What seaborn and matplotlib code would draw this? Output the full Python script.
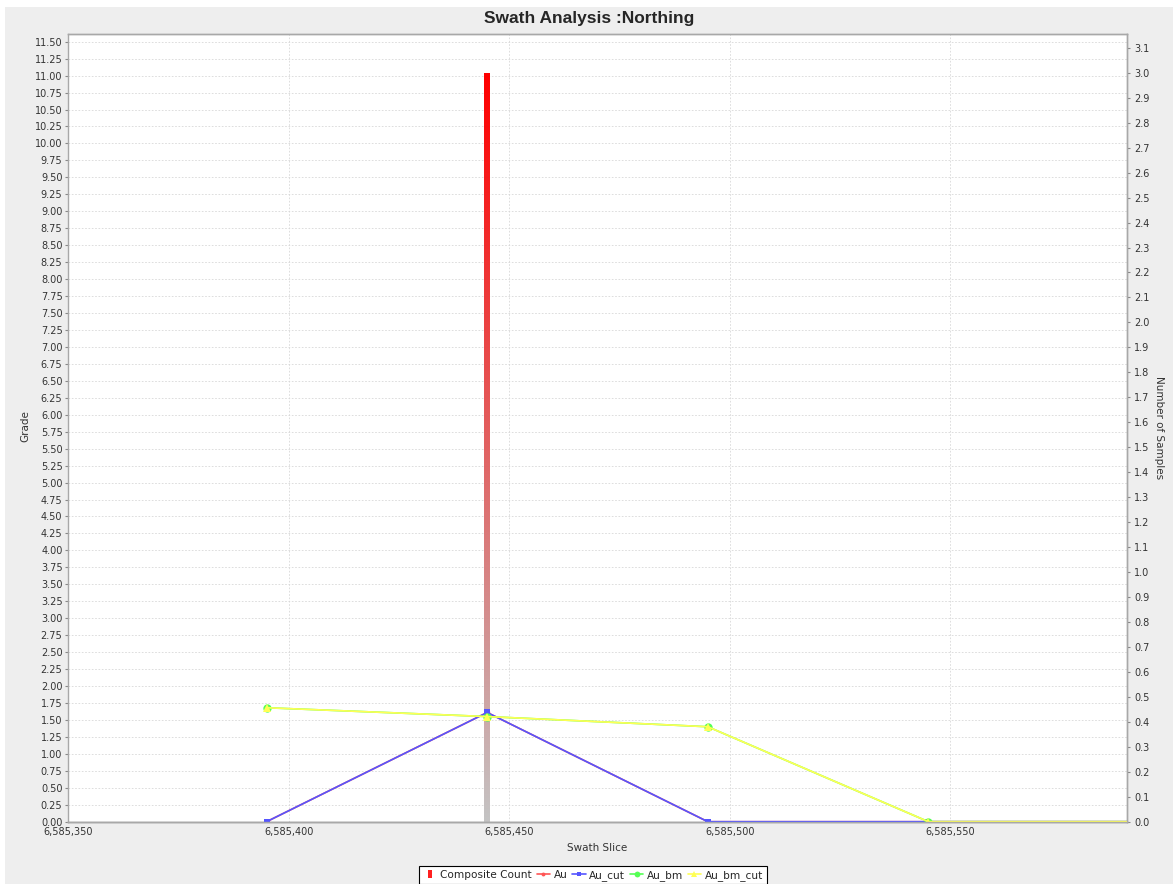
import numpy as np
import matplotlib
matplotlib.use("Agg")
import matplotlib.pyplot as plt
import matplotlib.ticker as mticker
from matplotlib.patches import Rectangle
from matplotlib.lines import Line2D
from matplotlib.colors import LinearSegmentedColormap
import seaborn as sns

# Swath slice centres (northing) and values
slices = [6585395, 6585445, 6585495, 6585545, 6585595]
composite_count = [0, 3, 0, 0, 0]
au = [0.0, 1.61, 0.0, 0.0, 0.0]
au_cut = [0.0, 1.61, 0.0, 0.0, 0.0]
au_bm = [1.68, 1.55, 1.40, 0.0, 0.0]
au_bm_cut = [1.68, 1.55, 1.40, 0.0, 0.0]

grade_ticks = np.arange(0, 11.51, 0.25)
count_ticks = np.arange(0, 3.11, 0.1)
x_ticks = [6585350, 6585400, 6585450, 6585500, 6585550]

sns.set_style("white")
plt.rcParams['font.family'] = ['DejaVu Sans']

W, H = 1173, 884
fig = plt.figure(figsize=(W / 100, H / 100), dpi=100, facecolor='white')
fig.add_artist(Rectangle((5 / W, 0), 1, 1 - 7 / H, transform=fig.transFigure,
                         facecolor='#EEEEEE', edgecolor='none', zorder=-10))

left, right, top, bottom = 68, 1127, 34.3, 821.7
rect = [left / W, 1 - bottom / H, (right - left) / W, (bottom - top) / H]
ax = fig.add_axes(rect)
ax.set_facecolor('white')
ax2 = ax.twinx()
ax3 = ax.twinx()

# grid + left (grade) axis
ax.set_xlim(6585350, 6585590)
ax.set_ylim(0, 11.609)
ax.set_yticks(grade_ticks)
ax.set_xticks(x_ticks)
ax.yaxis.set_major_formatter(mticker.FormatStrFormatter('%.2f'))
ax.xaxis.set_major_formatter(mticker.FuncFormatter(lambda v, p: f"{v:,.0f}"))
ax.grid(True, color='#D8D8D8', linestyle=(0, (2, 2)), linewidth=0.6)
ax.tick_params(axis='both', labelsize=7, length=2, width=0.8, color='#888888',
               pad=2, labelcolor='#333333')

# composite count bars on the right axis
ax2.set_ylim(0, 3.154)
ax2.set_yticks(count_ticks)
ax2.yaxis.set_major_formatter(mticker.FormatStrFormatter('%.1f'))
ax2.tick_params(axis='y', labelsize=7, length=2, width=0.8, color='#888888',
                pad=3, labelcolor='#333333')
bars = ax2.bar(slices, composite_count, width=1.3, color='none', linewidth=0)
grad = np.linspace(0, 1, 256).reshape(-1, 1)
cmap = LinearSegmentedColormap.from_list('barfade', ['#C4C4C4', '#FF0000'])
for b in bars:
    if b.get_height() <= 0:
        continue
    x0, w, h = b.get_x(), b.get_width(), b.get_height()
    im = ax2.imshow(grad, cmap=cmap, origin='lower', aspect='auto',
                    extent=(x0, x0 + w, 0, h), zorder=2)
    im.set_clip_path(b)
ax2.set_xlim(6585350, 6585590)
ax2.set_ylim(0, 3.154)

# grade series
ax3.set_ylim(0, 11.609)
ax3.set_xlim(6585350, 6585590)
ax3.yaxis.set_visible(False)
sns.lineplot(x=slices, y=au, ax=ax3, color='#FF5555', marker='o', markersize=4,
             markeredgewidth=0, linewidth=1.2, alpha=0.75, label='Au')
sns.lineplot(x=slices, y=au_cut, ax=ax3, color='#5555FF', marker='s', markersize=5,
             markeredgewidth=0, linewidth=1.2, alpha=0.65, label='Au_cut')
sns.lineplot(x=slices, y=au_bm, ax=ax3, color='#55FF55', marker='o', markersize=6,
             markeredgewidth=0, linewidth=1.2, alpha=0.75, label='Au_bm')
sns.lineplot(x=slices, y=au_bm_cut, ax=ax3, color='#FFFF55', marker='^', markersize=6,
             markeredgewidth=0, linewidth=1.2, alpha=0.7, label='Au_bm_cut')
ax3.get_legend().remove()

for a in (ax, ax2, ax3):
    for s in a.spines.values():
        s.set_color('#A8A8A8')
        s.set_linewidth(1)
for s in ('left', 'right', 'top'):
    ax3.spines[s].set_visible(False)
ax2.spines['left'].set_visible(False)

# texts
fig.text(589 / W, 1 - 19 / H, 'Swath Analysis :Northing', ha='center', va='center',
         fontsize=12.5, fontweight='bold', family=['Liberation Sans', 'DejaVu Sans'])
fig.text(25 / W, 1 - 426 / H, 'Grade', rotation=90, ha='center', va='center',
         fontsize=7.5, color='#333333')
fig.text(1159 / W, 1 - 428 / H, 'Number of Samples', rotation=-90, ha='center',
         va='center', fontsize=7.5, color='#333333')
fig.text(597 / W, 1 - 848 / H, 'Swath Slice', ha='center', va='center',
         fontsize=7.5, color='#333333')

handles, labels = ax3.get_legend_handles_labels()
for hd in handles:
    hd.set_alpha(1)
bar_marker = [(-0.4, -1), (0.4, -1), (0.4, 1), (-0.4, 1)]
bar_handle = Line2D([], [], linestyle='none', marker=bar_marker, markersize=9,
                    markerfacecolor='#FF2020', markeredgewidth=0)
handles = [bar_handle] + handles
labels = ['Composite Count'] + labels
leg = fig.legend(handles, labels, loc='upper center', bbox_to_anchor=(593 / W, 1 - 866 / H),
                 ncol=5, fontsize=7.6, frameon=True, fancybox=False, framealpha=1,
                 edgecolor='black', borderpad=0.35, handlelength=1.3, handleheight=0.9,
                 handletextpad=0.3, columnspacing=0.45, borderaxespad=0, markerscale=0.7)
leg.get_frame().set_linewidth(0.8)

fig.savefig('out.png', dpi=100, facecolor=fig.get_facecolor())
